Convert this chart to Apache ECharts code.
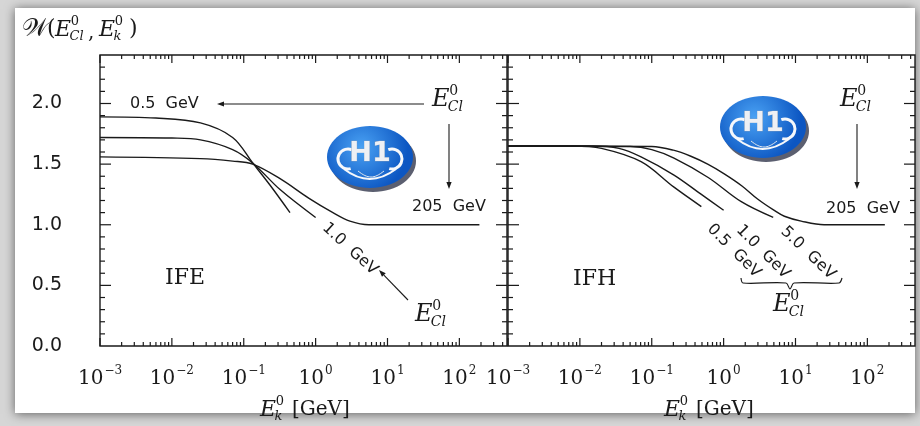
<!DOCTYPE html>
<html>
<head>
<meta charset="utf-8">
<script src="https://cdn.jsdelivr.net/npm/echarts@6/dist/echarts.min.js"></script>
<style>
  html, body { margin: 0; padding: 0; background: #fff; }
  #main { width: 920px; height: 426px; }
</style>
</head>
<body>
<div id="main"></div>
<script>
// axis ranges
var X_MIN = 0.001, X_MAX = 460;
var Y_MIN = 0, Y_MAX = 2.4;
var yTickLabels = [0, 0.5, 1.0, 1.5, 2.0];

// IFE panel (left)
var ife05 = [[0.001, 1.89], [0.006, 1.88], [0.025, 1.84], [0.07, 1.72], [0.133, 1.51], [0.23, 1.33], [0.44, 1.10]];
var ife10 = [[0.001, 1.72], [0.01, 1.715], [0.025, 1.70], [0.07, 1.62], [0.133, 1.51], [0.32, 1.29], [1.0, 1.06]];
var ife205 = [[0.001, 1.56], [0.025, 1.545], [0.07, 1.525], [0.133, 1.50], [0.32, 1.38], [0.8, 1.22], [1.74, 1.10], [3.0, 1.03], [5.5, 1.0], [190, 1.0]];

// IFH panel (right)
var ifh05 = [[0.001, 1.65], [0.008, 1.65], [0.02, 1.63], [0.071, 1.52], [0.204, 1.31], [0.49, 1.15]];
var ifh10 = [[0.001, 1.65], [0.015, 1.65], [0.035, 1.63], [0.071, 1.56], [0.204, 1.41], [0.49, 1.25], [1.0, 1.12]];
var ifh50 = [[0.001, 1.65], [0.05, 1.645], [0.1, 1.62], [0.204, 1.55], [0.61, 1.39], [1.76, 1.19], [4.9, 1.06]];
var ifh205 = [[0.001, 1.65], [0.1, 1.645], [0.2, 1.615], [0.35, 1.565], [0.6, 1.50], [1.02, 1.42], [1.8, 1.32], [3.0, 1.21], [5.0, 1.12], [7.0, 1.07], [12, 1.03], [25, 1.0], [175, 1.0]];

// frame ticks (decades + 2..9, and every 0.1 on y)
var xTicks = [];
for (var ex = -3; ex <= 2; ex++) {
    for (var m = 1; m <= 9; m++) {
        var tv = m * Math.pow(10, ex);
        if (tv <= X_MAX) xTicks.push([tv, m === 1]);
    }
}
var yTicks = [];
for (var n = 1; n < 24; n++) {
    yTicks.push([n / 10, n % 5 === 0]);
}

var chart = echarts.init(document.getElementById('main'));

var SERIF = '"DejaVu Serif", serif';
var SANS = '"DejaVu Sans", sans-serif';
var INK = '#1a1a1a';

function seg(x1, y1, x2, y2) {
    return {type: 'line', z: 5, shape: {x1: x1, y1: y1, x2: x2, y2: y2}, style: {stroke: INK, lineWidth: 1.2}};
}

function curve(grid, data) {
    return {
        type: 'line',
        xAxisIndex: grid,
        yAxisIndex: grid,
        data: data,
        symbol: 'none',
        smooth: 0.35,
        silent: true,
        lineStyle: {color: INK, width: 1.4}
    };
}

function txt(x, y, s, font) {
    return {type: 'text', x: x, y: y, style: {text: s, font: font, fill: INK, textAlign: 'left', textVerticalAlign: 'middle'}};
}

function rotTxt(x, y, s, rot) {
    return {type: 'text', x: x, y: y, rotation: rot,
        style: {text: s, font: '16px ' + SANS, fill: INK, textAlign: 'center', textVerticalAlign: 'middle'}};
}

// E with superscript 0 and a subscript
function eSym(x, y, sub, size) {
    return {
        type: 'group',
        children: [
            txt(x, y, 'E', 'italic ' + size + 'px ' + SERIF),
            txt(x + size * 0.72, y - size * 0.36, '0', Math.round(size * 0.58) + 'px ' + SERIF),
            txt(x + size * 0.66, y + size * 0.3, sub, 'italic ' + Math.round(size * 0.58) + 'px ' + SERIF)
        ]
    };
}

function arrow(x1, y1, x2, y2) {
    var ang = Math.atan2(y2 - y1, x2 - x1), h = 7, w = 2.6;
    var bx = x2 - h * Math.cos(ang), by = y2 - h * Math.sin(ang);
    return {
        type: 'group',
        children: [
            {type: 'line', shape: {x1: x1, y1: y1, x2: bx, y2: by}, style: {stroke: INK, lineWidth: 1.1}},
            {type: 'polygon', shape: {points: [[x2, y2],
                [bx + w * Math.sin(ang), by - w * Math.cos(ang)],
                [bx - w * Math.sin(ang), by + w * Math.cos(ang)]]}, style: {fill: INK}}
        ]
    };
}

function logo(cx, cy) {
    var white = {stroke: '#f6f8fb', lineWidth: 3, fill: null};
    return {
        type: 'group',
        x: cx,
        y: cy,
        children: [
            {type: 'ellipse', shape: {cx: 3, cy: 4, rx: 43, ry: 31}, style: {fill: '#5b5f70'}},
            {type: 'ellipse', shape: {cx: 0, cy: 0, rx: 43, ry: 31}, style: {
                fill: new echarts.graphic.RadialGradient(0.4, 0.35, 0.75, [
                    {offset: 0, color: '#4aa2f4'}, {offset: 1, color: '#0c56c2'}])
            }},
            {type: 'arc', shape: {cx: -22, cy: 2, r: 10, startAngle: 1.3, endAngle: 5.1}, style: white},
            {type: 'arc', shape: {cx: 22, cy: 2, r: 10, startAngle: -1.95, endAngle: 1.85}, style: white},
            {type: 'bezierCurve', shape: {x1: -26, y1: 12, cpx1: -8, cpy1: 26, cpx2: 10, cpy2: 24, x2: 26, y2: 12}, style: {stroke: '#f6f8fb', lineWidth: 2, fill: null}},
            {type: 'bezierCurve', shape: {x1: -12, y1: 14, cpx1: -2, cpy1: 22, cpx2: 4, cpy2: 22, x2: 14, y2: 14}, style: {stroke: '#dfe6ee', lineWidth: 1, fill: null}},
            {type: 'text', style: {text: 'H1', x: 0, y: -3, font: 'bold 27px ' + SANS, fill: '#eef0f4',
                textAlign: 'center', textVerticalAlign: 'middle', stroke: '#9aa3b0', lineWidth: 0.6}}
        ]
    };
}

function xAxisFor(grid) {
    return {
        type: 'log',
        logBase: 10,
        gridIndex: grid,
        min: X_MIN,
        max: X_MAX,
        axisLine: {show: false},
        axisTick: {show: false},
        splitLine: {show: false},
        axisLabel: {
            margin: 19,
            showMaxLabel: false,
            formatter: function (val) {
                var p = Math.round(Math.log10(val));
                return '{b|10}{s|' + (p < 0 ? '\u2212' : '') + Math.abs(p) + '}';
            },
            rich: {
                b: {fontSize: 20, fontFamily: SERIF, color: INK, lineHeight: 24, verticalAlign: 'bottom'},
                s: {fontSize: 12, fontFamily: SERIF, color: INK, lineHeight: 24, verticalAlign: 'top', padding: [0, 0, 0, 1]}
            }
        }
    };
}

function yAxisFor(grid, labels) {
    return {
        type: 'value',
        gridIndex: grid,
        min: Y_MIN,
        max: Y_MAX,
        interval: 0.5,
        axisLine: {show: false},
        axisTick: {show: false},
        splitLine: {show: false},
        axisLabel: {
            show: labels,
            margin: 38,
            showMaxLabel: false,
            fontFamily: SANS,
            fontSize: 19,
            color: INK,
            formatter: function (val) {
                return yTickLabels.indexOf(val) >= 0 ? val.toFixed(1) : '';
            }
        }
    };
}

var graphics = [
    // page with soft shadow
    {type: 'rect', z: -10, shape: {x: 15, y: 8, width: 900, height: 405},
        style: {fill: '#ffffff', shadowBlur: 10, shadowColor: 'rgba(0,0,0,0.55)', shadowOffsetX: 0, shadowOffsetY: 1}},

    // y title  W(E0_Cl, E0_k)
    {type: 'group', children: [
        txt(22, 29, '\uD835\uDCB2', '25px ' + SERIF),
        txt(47, 29, '(', '22px ' + SERIF),
        eSym(55, 30, 'Cl', 22),
        txt(88, 33, ',', '20px ' + SERIF),
        eSym(99, 30, 'k', 22),
        txt(129, 29, ')', '22px ' + SERIF)
    ]},

    // x titles
    eSym(260, 410, 'k', 22), txt(292, 410, '[GeV]', '20px ' + SERIF),
    eSym(664, 410, 'k', 22), txt(696, 410, '[GeV]', '20px ' + SERIF),

    // left panel annotations
    txt(130, 104, '0.5  GeV', '16px ' + SANS),
    arrow(424, 104, 217, 104),
    eSym(432, 100, 'Cl', 24),
    arrow(449, 124, 449, 189),
    txt(412, 207, '205  GeV', '16px ' + SANS),
    rotTxt(350, 249, '1.0  GeV', -0.74),
    arrow(408, 300, 379, 270),
    eSym(415, 315, 'Cl', 24),
    txt(165, 278, 'IFE', '22px ' + SERIF),
    logo(370, 157),

    // right panel annotations
    eSym(840, 100, 'Cl', 24),
    arrow(857, 124, 857, 189),
    txt(826, 209, '205  GeV', '16px ' + SANS),
    rotTxt(734, 251, '0.5  GeV', -0.79),
    rotTxt(763, 252, '1.0  GeV', -0.79),
    rotTxt(808, 253, '5.0  GeV', -0.76),
    // brace under the labels
    {type: 'polyline', shape: {points: [[741, 278], [743, 283], [786, 283], [790, 289], [794, 283], [839, 283], [842, 278]], smooth: 0.3},
        style: {stroke: INK, lineWidth: 1.2, fill: null}},
    eSym(773, 305, 'Cl', 24),
    txt(573, 279, 'IFH', '22px ' + SERIF),
    logo(763, 127)
];

chart.setOption({
    backgroundColor: '#d6d6d6',
    animation: false,
    grid: [
        {left: 100, right: 413, top: 55, bottom: 80, show: true, borderColor: INK, borderWidth: 1.4, backgroundColor: 'transparent'},
        {left: 508, right: 5, top: 55, bottom: 80, show: true, borderColor: INK, borderWidth: 1.4, backgroundColor: 'transparent'}
    ],
    xAxis: [xAxisFor(0), xAxisFor(1)],
    yAxis: [yAxisFor(0, true), yAxisFor(1, false)],
    series: [
        curve(0, ife05), curve(0, ife10), curve(0, ife205),
        curve(1, ifh05), curve(1, ifh10), curve(1, ifh50), curve(1, ifh205)
    ]
});

// inward frame ticks, placed through the axes' own scales
function frameTicks(seriesIdx) {
    var els = [];
    var px = function (x, y) { return chart.convertToPixel({seriesIndex: seriesIdx}, [x, y]); };
    var yb = px(1, Y_MIN)[1], yt = px(1, Y_MAX)[1];
    var xl = px(X_MIN, 1)[0], xr = px(X_MAX, 1)[0];
    xTicks.forEach(function (t) {
        var x = px(t[0], 1)[0];
        var L = t[1] ? 8 : 4;
        els.push(seg(x, yb, x, yb - L), seg(x, yt, x, yt + L));
    });
    yTicks.forEach(function (t) {
        var y = px(1, t[0])[1];
        var L = t[1] ? 11 : 5;
        els.push(seg(xl, y, xl + L, y), seg(xr, y, xr - L, y));
    });
    return els;
}

chart.setOption({graphic: frameTicks(0).concat(frameTicks(3), graphics)});
</script>
</body>
</html>
